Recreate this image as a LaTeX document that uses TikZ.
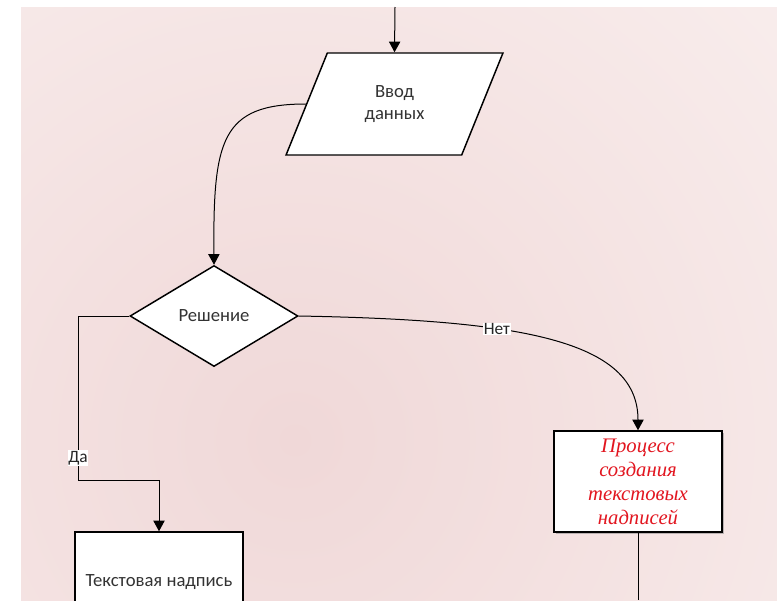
\documentclass[tikz,border=0pt]{standalone}
\usepackage{fontspec}
\setmainfont{Carlito}
\newfontfamily\procfont{Liberation Serif}
\usetikzlibrary{shapes.geometric,arrows.meta,shadows}
\definecolor{bgInner}{RGB}{240,216,216}
\definecolor{bgOuter}{RGB}{252,246,245}
\definecolor{procRed}{RGB}{226,22,32}
\begin{document}
\begin{tikzpicture}[x=0.75pt,y=0.75pt,yscale=-1,xscale=1,
  blk/.style={draw,fill=white,line width=1.1pt,inner sep=0pt,font=\fontsize{14}{17}\selectfont,text=black!80,align=center},
  inbox/.style={blk,trapezium,trapezium left angle=64,trapezium right angle=116,trapezium stretches=true,minimum width=162.75pt,minimum height=76.5pt},
  decbox/.style={blk,diamond,minimum width=126pt,minimum height=75.75pt},
  procbox/.style={blk,rectangle,minimum width=126pt,minimum height=75.75pt},
  conn/.style={line width=0.75pt,-{Triangle[width=8.5pt,length=8pt]}},
  lbl/.style={fill=white,inner sep=0.5pt,font=\fontsize{13}{15}\selectfont,text=black!85}]
\useasboundingbox (0,0) rectangle (777,600);
%background page
\begin{scope}
\clip (21,7) rectangle (777,600);
\shade[inner color=bgInner,outer color=bgOuter] (295,440) circle (950);
\end{scope}

\node[inbox] (input) at (394.5,104) {Ввод\\данных};
\node[decbox] (decision) at (214,316) {Решение};
\node[procbox,font=\procfont\itshape\fontsize{15.5}{18}\selectfont,text=procRed,
  drop shadow={shadow xshift=1.2pt,shadow yshift=-1.2pt,opacity=0.5}] (process) at (638,481.5) {Процесс\\создания\\текстовых\\надписей};
\node[procbox] (textbox) at (159,582.5) {Текстовая надпись};

\coordinate (top) at (395,7);
\coordinate (bottom) at (638,600);

\draw[conn] (top) -- (input.north);
\draw[conn] (input.west) .. controls (221,104) and (213,140) .. (decision.north);
\draw[conn] (decision.east) .. controls (520,320) and (638,340) .. (process.north) node[lbl,pos=0.36] {Нет};
\draw[conn] (decision.west) -| node[lbl,pos=0.933] {Да} (78,480) -| (textbox.north);
\draw[line width=0.75pt] (process.south) -- (bottom);

\end{tikzpicture}
\end{document}
